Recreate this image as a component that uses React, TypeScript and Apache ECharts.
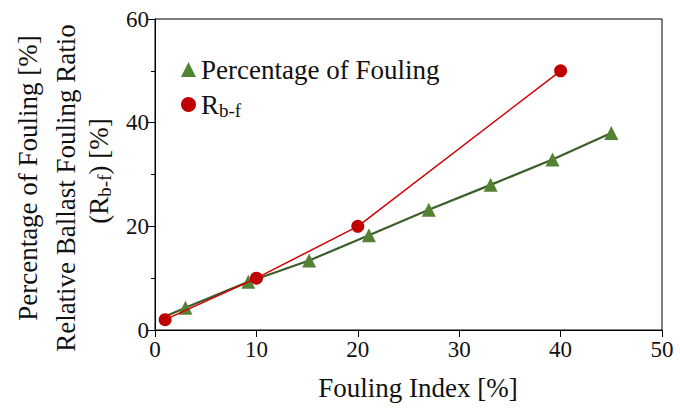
import React, { useEffect, useRef } from "react";
import * as echarts from "echarts";

const foulingX = [1, 3, 9.2, 15.2, 21.1, 27, 33.1, 39.2, 45];
const foulingY = [2.6, 4.3, 9.3, 13.4, 18.3, 23.2, 28, 32.9, 38];
const rbfX = [1, 10, 20, 40];
const rbfY = [2, 10, 20, 50];
const seriesNames = ["Percentage of Fouling", "R_b-f"];
const xTitle = "Fouling Index [%]";
const yTitleLines = ["Percentage of Fouling [%]", "Relative Ballast Fouling Ratio"];

const FONT = "Liberation Serif";

const richBase = (size: number) => ({
  n: { fontFamily: FONT, fontSize: size, fill: "#111", color: "#111" },
  s: { fontFamily: FONT, fontSize: Math.round(size * 0.7), fill: "#111", color: "#111", padding: [Math.round(size * 0.4), 0, 0, 0] },
});

export default function App() {
  const ref = useRef<HTMLDivElement>(null);
  useEffect(() => {
    const chart = echarts.init(ref.current!, null, { renderer: "svg" });
    chart.setOption({
      animation: false,
      grid: { left: 155, right: 18, top: 19, bottom: 78, show: true, borderColor: "#000", borderWidth: 1 },
      legend: {
        orient: "vertical",
        left: 176,
        top: 51,
        itemGap: 8,
        itemWidth: 15,
        itemHeight: 15,
        textStyle: { fontFamily: FONT, fontSize: 27, color: "#111", rich: richBase(27) },
        formatter: (name: string) => (name === "R_b-f" ? "{n|R}{s|b-f}" : "{n|" + name + "}"),
        data: [
          { name: seriesNames[0], icon: "triangle" },
          { name: seriesNames[1], icon: "circle" },
        ],
      },
      xAxis: {
        type: "value",
        min: 0,
        max: 50,
        interval: 10,
        axisLine: { lineStyle: { color: "#000", width: 1 } },
        axisTick: { show: true, length: 7, inside: false, lineStyle: { color: "#000" } },
        axisLabel: { fontFamily: FONT, fontSize: 23, color: "#111", margin: 8 },
        splitLine: { show: false },
      },
      yAxis: {
        type: "value",
        min: 0,
        max: 60,
        interval: 20,
        axisLine: { show: true, lineStyle: { color: "#000", width: 1 } },
        axisTick: { show: true, length: 7, lineStyle: { color: "#000" } },
        minorTick: { show: true, splitNumber: 2, length: 4, lineStyle: { color: "#000" } },
        axisLabel: { fontFamily: FONT, fontSize: 23, color: "#111", margin: 6 },
        splitLine: { show: false },
      },
      series: [
        {
          name: seriesNames[0],
          type: "line",
          data: foulingX.map((x, i) =>
            i === 0 ? { value: [x, foulingY[i]], symbol: "none" } : [x, foulingY[i]]
          ),
          symbol: "triangle",
          symbolSize: 14,
          itemStyle: { color: "#548235" },
          lineStyle: { color: "#3b5e2a", width: 2.2 },
          z: 2,
        },
        {
          name: seriesNames[1],
          type: "line",
          data: rbfX.map((x, i) => [x, rbfY[i]]),
          symbol: "circle",
          symbolSize: 13,
          itemStyle: { color: "#c00000" },
          lineStyle: { color: "#d10000", width: 1.5 },
          z: 3,
        },
      ],
      graphic: [
        {
          type: "text",
          x: 418,
          y: 388,
          style: { text: xTitle, fontFamily: FONT, fontSize: 27, fill: "#111", align: "center", verticalAlign: "middle" },
        },
        {
          type: "text",
          x: 28,
          y: 178,
          rotation: Math.PI / 2,
          style: { text: yTitleLines[0], fontFamily: FONT, fontSize: 27, fill: "#111", align: "center", verticalAlign: "middle" },
        },
        {
          type: "text",
          x: 66,
          y: 188,
          rotation: Math.PI / 2,
          style: { text: yTitleLines[1], fontFamily: FONT, fontSize: 27, fill: "#111", align: "center", verticalAlign: "middle" },
        },
        {
          type: "text",
          x: 99,
          y: 171,
          rotation: Math.PI / 2,
          style: { text: "{n|(R}{s|b-f}{n|) [%]}", fontFamily: FONT, fontSize: 27, fill: "#111", rich: richBase(27), align: "center", verticalAlign: "middle" },
        },
      ],
    });
    return () => chart.dispose();
  }, []);
  return <div ref={ref} style={{ width: 680, height: 408, position: "absolute", left: 0, top: 0 }} />;
}
